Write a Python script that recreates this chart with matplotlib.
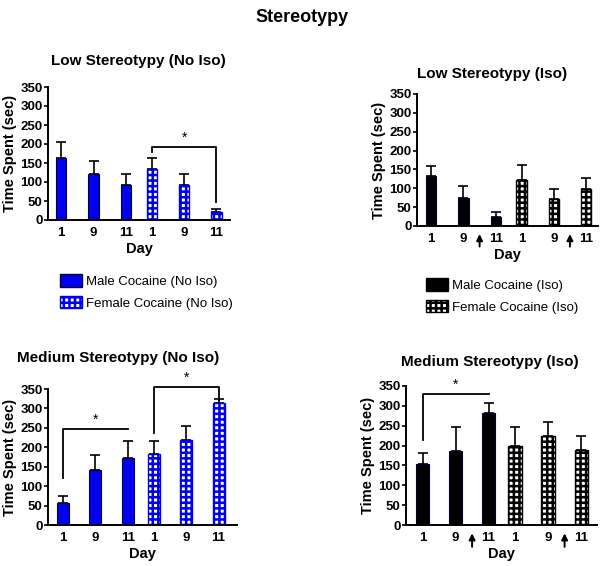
import matplotlib
matplotlib.use("Agg")
import matplotlib.pyplot as plt
from matplotlib.patches import Patch

plt.rcParams['font.family'] = ['Liberation Sans', 'DejaVu Sans']
plt.rcParams['hatch.linewidth'] = 1.8

day_labels = ['1', '9', '11', '1', '9', '11']
x_pos = [0, 1, 2, 2.8, 3.8, 4.8]

# Low stereotypy (No Iso)
low_noiso = [164, 122, 92, 133, 92, 20]
low_noiso_err = [40, 34, 28, 31, 29, 9]
# Low stereotypy (Iso)
low_iso = [133, 73, 25, 121, 71, 97]
low_iso_err = [25, 33, 11, 41, 26, 30]
# Medium stereotypy (No Iso)
med_noiso = [56, 141, 173, 182, 219, 313]
med_noiso_err = [19, 39, 43, 35, 37, 12]
# Medium stereotypy (Iso)
med_iso = [153, 186, 283, 199, 224, 189]
med_iso_err = [28, 62, 23, 49, 35, 36]

blue = '#0000ee'
checker = '+++'


def draw_panel(rect, vals, errs, color, xlim, width, title, title_xy):
    ax = fig.add_axes(rect)
    n = len(vals)
    for i in range(n):
        female = i >= 3
        if female:
            ax.bar(x_pos[i], vals[i], width=width, facecolor='white',
                   edgecolor=color, hatch=checker, linewidth=1.0, zorder=2)
        else:
            ax.bar(x_pos[i], vals[i], width=width, facecolor=color,
                   edgecolor='#000033', linewidth=0.8, zorder=2)
        ax.errorbar(x_pos[i], vals[i], yerr=[[0], [errs[i]]], fmt='none',
                    ecolor='black', elinewidth=1.2, capsize=3.5, capthick=1.2,
                    zorder=1)
    ax.set_xlim(*xlim)
    ax.set_ylim(0, 350)
    ax.set_yticks(range(0, 351, 50))
    ax.set_xticks(x_pos)
    ax.set_xticklabels(day_labels, fontweight='bold', fontsize=9.5)
    ax.tick_params(axis='x', length=0, pad=5)
    ax.tick_params(axis='y', length=3, width=1.2, pad=1, labelsize=9.5)
    for lab in ax.get_yticklabels():
        lab.set_fontweight('bold')
    for s in ['top', 'right']:
        ax.spines[s].set_visible(False)
    for s in ['left', 'bottom']:
        ax.spines[s].set_linewidth(1.4)
    ax.set_ylabel('Time Spent (sec)', fontweight='bold', fontsize=10.5, labelpad=2)
    ax.set_xlabel('Day', fontweight='bold', fontsize=10.5, labelpad=2)
    fig.text(title_xy[0] / 604, 1 - title_xy[1] / 566, title, ha='center',
             va='center', fontweight='bold', fontsize=11)
    return ax


def bracket(ax, x0, x1, y, drop0, drop1):
    ax.plot([x0, x0, x1, x1], [drop0, y, y, drop1], color='black', lw=1.3,
            clip_on=False)
    ax.text((x0 + x1) / 2, y + 6, '*', ha='center', va='bottom', fontsize=10)


def arrow(ax, x):
    ax.annotate('', xy=(x, -14), xytext=(x, -62), xycoords='data',
                arrowprops=dict(arrowstyle='-|>', color='black', lw=1.4,
                                mutation_scale=9),
                annotation_clip=False)


fig = plt.figure(figsize=(6.04, 5.66), dpi=100)

fig.text(302 / 604, 1 - 18 / 566, 'Stereotypy', ha='center', va='center',
         fontweight='bold', fontsize=13)

ax1 = draw_panel([48 / 604, 346 / 566, 182 / 604, 133 / 566], low_noiso,
                 low_noiso_err, blue, (-0.41, 5.22), 0.32,
                 'Low Stereotypy (No Iso)', (138, 61))
bracket(ax1, x_pos[3], x_pos[5], 192, 180, 48)

ax2 = draw_panel([417 / 604, 340 / 566, 181 / 604, 132 / 566], low_iso,
                 low_iso_err, 'black', (-0.44, 5.17), 0.32,
                 'Low Stereotypy (Iso)', (492, 74))
arrow(ax2, 1.5)
arrow(ax2, 4.3)

ax3 = draw_panel([48 / 604, 41 / 566, 189 / 604, 136 / 566], med_noiso,
                 med_noiso_err, blue, (-0.46, 5.37), 0.37,
                 'Medium Stereotypy (No Iso)', (118, 358))
bracket(ax3, x_pos[0], x_pos[2], 247, 120, 247)
bracket(ax3, x_pos[3], x_pos[5], 356, 236, 322)

ax4 = draw_panel([406 / 604, 41 / 566, 191 / 604, 139 / 566], med_iso,
                 med_iso_err, 'black', (-0.5, 5.28), 0.4,
                 'Medium Stereotypy (Iso)', (490, 362))
bracket(ax4, x_pos[0], x_pos[2], 330, 214, 330)
arrow(ax4, 1.5)
arrow(ax4, 4.3)

# legends
leg_handles_noiso = [
    Patch(facecolor=blue, edgecolor='#000033', label='Male Cocaine (No Iso)'),
    Patch(facecolor='white', edgecolor=blue, hatch=checker,
          label='Female Cocaine (No Iso)'),
]
fig.legend(handles=leg_handles_noiso, loc='upper left',
           bbox_to_anchor=(60 / 604, 1 - 274 / 566), frameon=False,
           fontsize=9.5, handlelength=1.7, handleheight=1.1,
           handletextpad=0.3, borderpad=0, borderaxespad=0, labelspacing=0.6)

leg_handles_iso = [
    Patch(facecolor='black', edgecolor='black', label='Male Cocaine (Iso)'),
    Patch(facecolor='white', edgecolor='black', hatch=checker,
          label='Female Cocaine (Iso)'),
]
fig.legend(handles=leg_handles_iso, loc='upper left',
           bbox_to_anchor=(426 / 604, 1 - 278 / 566), frameon=False,
           fontsize=9.5, handlelength=1.7, handleheight=1.1,
           handletextpad=0.3, borderpad=0, borderaxespad=0, labelspacing=0.6)

fig.savefig('out.png', dpi=100)
